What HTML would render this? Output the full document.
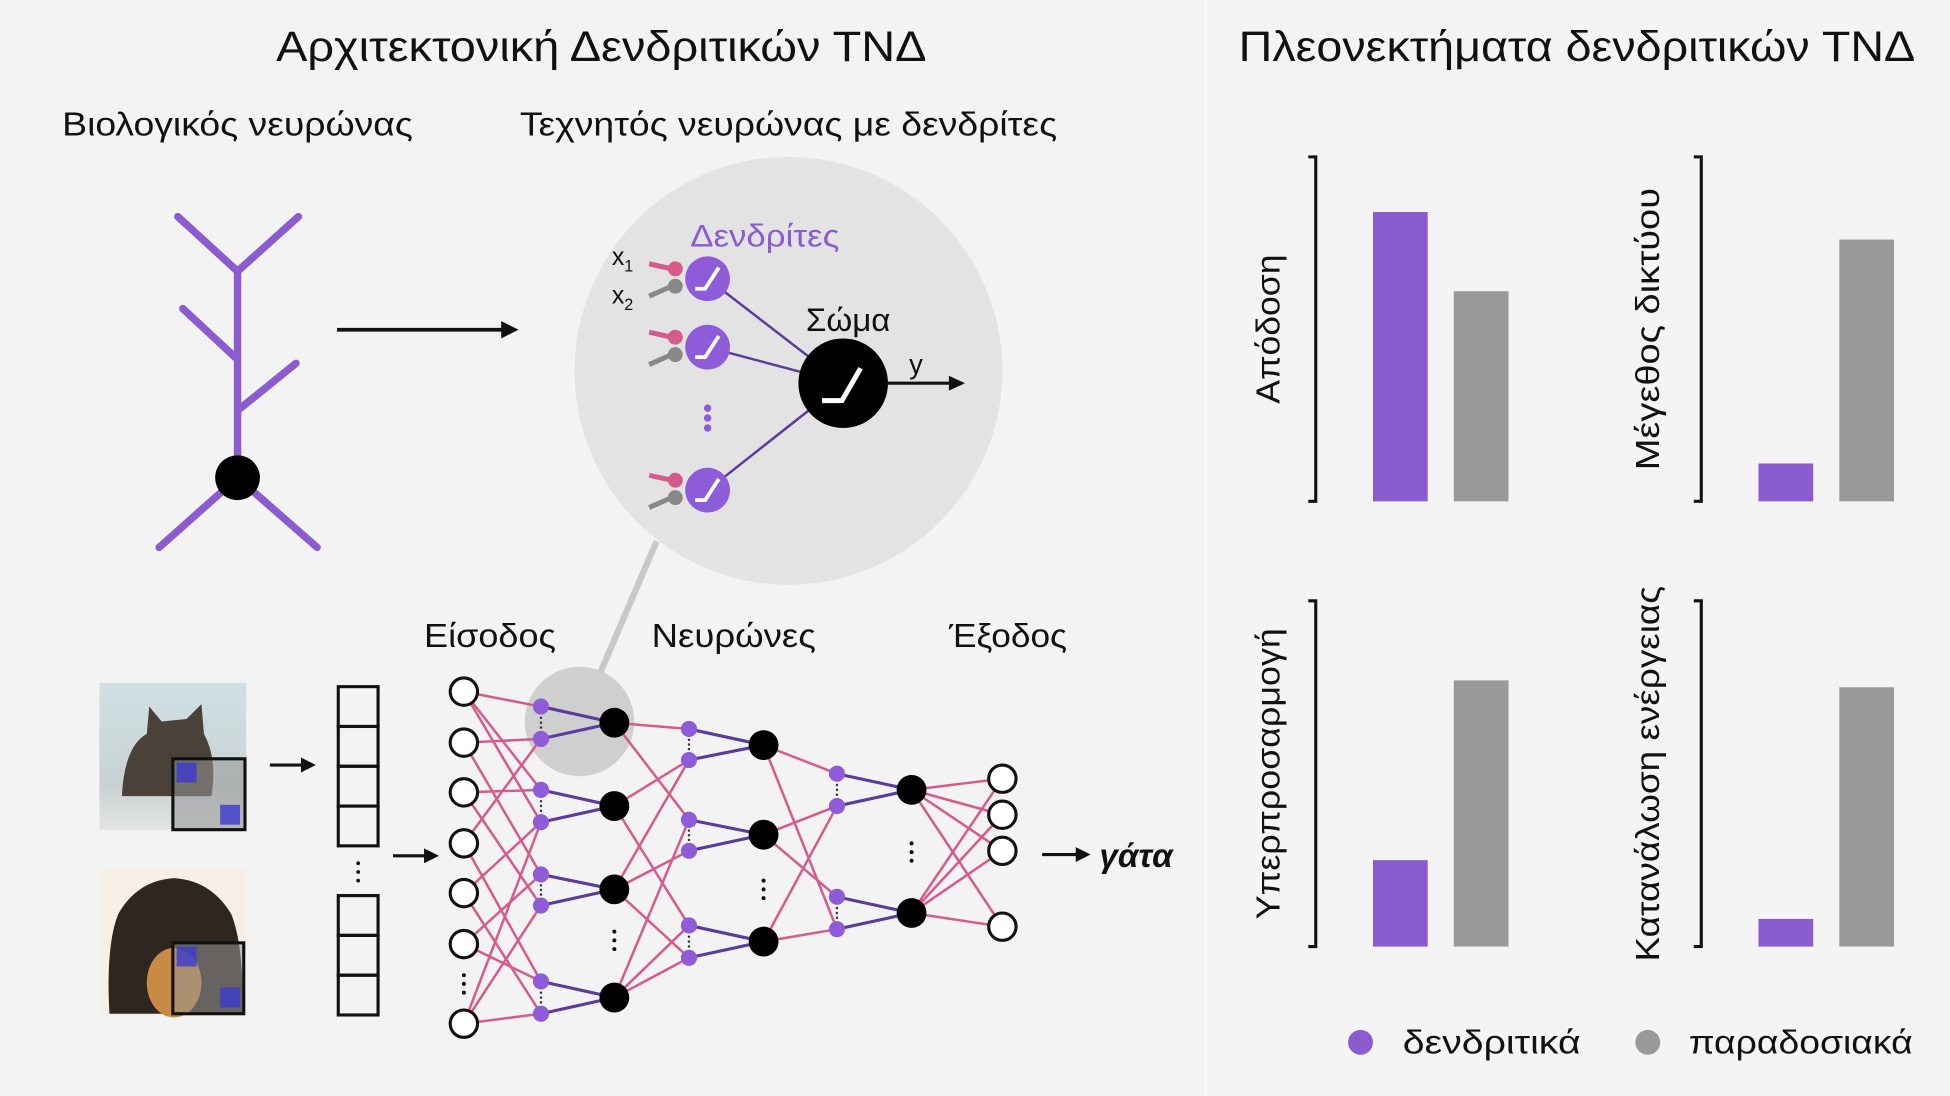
<!DOCTYPE html>
<html><head><meta charset="utf-8"><style>
html,body{margin:0;padding:0;background:#f3f3f3;}
svg{display:block;}
text{font-family:"Liberation Sans","DejaVu Sans",sans-serif;}
</style></head><body>
<svg width="1950" height="1096" viewBox="0 0 1568 881" xmlns="http://www.w3.org/2000/svg">
<rect x="0" y="0" width="1568" height="881" fill="#f3f3f3"/>
<line x1="970" y1="0" x2="970" y2="881" stroke="#fafafa" stroke-width="2"/>
<rect x="971" y="0" width="597" height="881" fill="#f4f4f4"/>

<text x="222" y="49" font-size="34" textLength="523" lengthAdjust="spacingAndGlyphs" fill="#111">Αρχιτεκτονική Δενδριτικών ΤΝΔ</text>
<text x="996" y="49" font-size="34" textLength="544" lengthAdjust="spacingAndGlyphs" fill="#111">Πλεονεκτήματα δενδριτικών ΤΝΔ</text>
<text x="50" y="109" font-size="27" textLength="282" lengthAdjust="spacingAndGlyphs" fill="#111">Βιολογικός νευρώνας</text>
<text x="418" y="109" font-size="27" textLength="432" lengthAdjust="spacingAndGlyphs" fill="#111">Τεχνητός νευρώνας με δενδρίτες</text>

<g stroke="#8b5cd0" stroke-width="6" stroke-linecap="round" fill="none">
<path d="M143 174 L191 218 L240 174 M191 218 L191 384 M147 248 L190 288 M238 292 L191 330 M191 384 L128 440 M191 384 L255 440"/>
</g>
<circle cx="191" cy="384" r="18" fill="#000"/>
<g>
<line x1="271" y1="265" x2="406" y2="265" stroke="#111" stroke-width="3"/>
<polygon points="417,265 403,258 403,272" fill="#111"/>
</g>

<line x1="528" y1="435" x2="483" y2="540" stroke="#c8c8c8" stroke-width="5"/>
<circle cx="634" cy="298" r="172" fill="#e3e3e3"/>
<circle cx="466" cy="580" r="44" fill="#cfcfcf"/>
<g id="zoomed"></g>
<text x="555" y="198" font-size="25" textLength="120" lengthAdjust="spacingAndGlyphs" fill="#8b5cd0">Δενδρίτες</text>
<text x="648" y="266" font-size="26" textLength="68" lengthAdjust="spacingAndGlyphs" fill="#111">Σώμα</text>
<text x="731" y="300" font-size="22" fill="#111">y</text>
<text x="492" y="213" font-size="20" fill="#111">x<tspan font-size="13" dy="5">1</tspan></text>
<text x="492" y="244" font-size="20" fill="#111">x<tspan font-size="13" dy="5">2</tspan></text>

<g id="images">
<defs>
<linearGradient id="catbg" x1="0" y1="0" x2="0" y2="1"><stop offset="0" stop-color="#cfe0e3"/><stop offset="0.7" stop-color="#c9d2d3"/><stop offset="1" stop-color="#e3e3e3"/></linearGradient>
</defs>
<rect x="80" y="549" width="118" height="118" fill="url(#catbg)"/>
<path d="M98 640 Q100 600 118 590 L120 568 L130 580 L150 578 L162 566 L164 590 Q175 610 170 640 Z" fill="#4a4238"/>
<rect x="139" y="610" width="58" height="57" fill="rgba(150,150,150,0.55)" stroke="#111" stroke-width="2.5"/>
<rect x="142" y="613" width="16" height="16" fill="#3a3ad0" opacity="0.8"/>
<rect x="177" y="647" width="16" height="16" fill="#3a3ad0" opacity="0.8"/>
<rect x="80" y="699" width="118" height="118" fill="#f7efe6"/>
<path d="M88 815 Q85 760 95 735 Q110 708 140 706 Q170 708 186 735 Q196 760 195 815 Z" fill="#2f2620"/>
<ellipse cx="140" cy="790" rx="22" ry="28" fill="#c98a45"/>
<rect x="139" y="758" width="57" height="57" fill="rgba(150,150,150,0.55)" stroke="#111" stroke-width="2.5"/>
<rect x="142" y="761" width="16" height="16" fill="#3a3ad0" opacity="0.8"/>
<rect x="177" y="794" width="16" height="16" fill="#3a3ad0" opacity="0.8"/>
</g>
<g><line x1="217" y1="615" x2="244" y2="615" stroke="#111" stroke-width="2.5"/><polygon points="254,615 242,609 242,621" fill="#111"/></g>
<g><line x1="316" y1="688" x2="343" y2="688" stroke="#111" stroke-width="2.5"/><polygon points="353,688 341,682 341,694" fill="#111"/></g>
<g id="vector" fill="none" stroke="#111" stroke-width="2.5">
<rect x="272" y="552" width="32" height="32"/><rect x="272" y="584" width="32" height="32"/><rect x="272" y="616" width="32" height="32"/><rect x="272" y="648" width="32" height="32"/>
<rect x="272" y="720" width="32" height="32"/><rect x="272" y="752" width="32" height="32"/><rect x="272" y="784" width="32" height="32"/>
</g>
<g fill="#111"><circle cx="288" cy="694" r="1.5"/><circle cx="288" cy="701" r="1.5"/><circle cx="288" cy="708" r="1.5"/></g>

<g id="net"></g>
<text x="341" y="520" font-size="27" textLength="106" lengthAdjust="spacingAndGlyphs" fill="#111">Είσοδος</text>
<text x="524" y="520" font-size="27" textLength="132" lengthAdjust="spacingAndGlyphs" fill="#111">Νευρώνες</text>
<text x="763" y="520" font-size="27" textLength="95" lengthAdjust="spacingAndGlyphs" fill="#111">Έξοδος</text>
<g><line x1="838" y1="687" x2="866" y2="687" stroke="#111" stroke-width="2.5"/><polygon points="877,687 865,681 865,693" fill="#111"/></g>
<text x="884" y="697" font-size="27" textLength="59" lengthAdjust="spacingAndGlyphs" font-weight="bold" font-style="italic" fill="#111">γάτα</text>

<g id="charts"></g>
<circle cx="1094" cy="838" r="10" fill="#8b5cd0"/>
<text x="1128" y="847" font-size="27" textLength="143" lengthAdjust="spacingAndGlyphs" fill="#111">δενδριτικά</text>
<circle cx="1325" cy="838" r="10" fill="#999"/>
<text x="1358" y="847" font-size="27" textLength="180" lengthAdjust="spacingAndGlyphs" fill="#111">παραδοσιακά</text>
</svg>
<script>
const NS='http://www.w3.org/2000/svg';
function mk(parent,tag,attrs){const e=document.createElementNS(NS,tag);for(const k in attrs)e.setAttribute(k,attrs[k]);parent.appendChild(e);return e;}

// ---- chart data ----
const chartTitles=['Απόδοση','Μέγεθος δικτύου','Υπερπροσαρμογή','Κατανάλωση ενέργειας'];
const seriesNames=['δενδριτικά','παραδοσιακά'];
const dendriticValues=[84,11,25,8];
const traditionalValues=[61,76,77,75];

const charts=document.getElementById('charts');
const panels=[{ax:1058,top:126,bot:403},{ax:1368,top:126,bot:403},{ax:1058,top:483,bot:761},{ax:1368,top:483,bot:761}];
const labelLens=[120,227,234,302];
function yScale(p,v){return p.bot-(p.bot-p.top)*v/100;}
chartTitles.forEach((t,i)=>{
  const p=panels[i];
  const g=mk(charts,'g',{});
  
  
  const ax=mk(g,'path',{d:`M${p.ax-6} ${p.top} L${p.ax} ${p.top} L${p.ax} ${p.bot} L${p.ax-6} ${p.bot}`,fill:'none',stroke:'#111','stroke-width':2.5});
  
  
  const vals=[dendriticValues[i],traditionalValues[i]];
  const cols=['#8b5cd0','#999999'];
  vals.forEach((v,j)=>{
    const x=p.ax+46+j*65, y=yScale(p,v);
    const r=mk(g,'rect',{x:x,y:y,width:44,height:p.bot-y,fill:cols[j]});
    
    
  });
  const lx=i%2===0?p.ax-29:p.ax-34, cy=(p.top+p.bot)/2;
  const tx=mk(g,'text',{x:lx,y:cy,'font-size':27,'text-anchor':'middle',textLength:labelLens[i],lengthAdjust:'spacingAndGlyphs',fill:'#111',transform:`rotate(-90 ${lx} ${cy})`});
  tx.textContent=t;
  
  
});

// ---- zoomed neuron ----
const z=document.getElementById('zoomed');
const dendY=[224,279,394];
dendY.forEach(y=>{
  const l=mk(z,'line',{x1:569,y1:y,x2:678,y2:308,stroke:'#5b3c9c','stroke-width':2});
  
  
});
dendY.forEach(y=>{
  const s1=mk(z,'path',{d:`M522 ${y-12} L540 ${y-8}`,stroke:'#d65a8a','stroke-width':4});
  
  
  mk(z,'circle',{cx:543,cy:y-8,r:6,fill:'#d65a8a'});
  mk(z,'path',{d:`M522 ${y+14} L540 ${y+6}`,stroke:'#888','stroke-width':4});
  mk(z,'circle',{cx:543,cy:y+6,r:6,fill:'#888'});
  const c=mk(z,'circle',{cx:569,cy:y,r:18,fill:'#8e5cd9'});
  
  
  mk(z,'path',{d:`M559 ${y+8} L567 ${y+8} L578 ${y-9}`,stroke:'#fff','stroke-width':3,fill:'none'});
});
[328,336,344].forEach(y=>mk(z,'circle',{cx:569,cy:y,r:3,fill:'#8e5cd9'}));
const soma=mk(z,'circle',{cx:678,cy:308,r:36,fill:'#000'});


mk(z,'path',{d:'M661 322 L677 322 L692 296',stroke:'#fff','stroke-width':4,fill:'none'});
mk(z,'line',{x1:714,y1:308,x2:764,y2:308,stroke:'#111','stroke-width':2.5});
mk(z,'polygon',{points:'776,308 763,302 763,314',fill:'#111'});

// ---- network ----
const net=document.getElementById('net');
const inY=[556,597,637,678,718,759,823];
const l1Soma=[581,648,715,802], l1D=[[568,594],[635,661],[703,728],[789,815]];
const l2Soma=[599,671,757], l2D=[[586,611],[659,684],[744,770]];
const l3Soma=[635,734], l3D=[[622,648],[721,747]];
const outY=[626,655,684,745];
const pink='#d65a8a', edges=[];
const l1flat=l1D.flat();
const inEdges=[[0,0],[0,2],[1,1],[2,2],[2,5],[3,1],[3,6],[4,3],[4,7],[5,4],[5,6],[6,5],[6,7],[1,4],[0,3],[6,3]];
inEdges.forEach(([a,b])=>edges.push([373,inY[a],435,l1flat[b]]));
const l2flat=l2D.flat();
[[0,0],[0,2],[1,1],[1,4],[2,3],[2,5],[3,2],[3,5],[3,4],[2,1]].forEach(([a,b])=>edges.push([494,l1Soma[a],554,l2flat[b]]));
const l3flat=l3D.flat();
[[0,0],[0,3],[1,1],[1,2],[2,1],[2,3]].forEach(([a,b])=>edges.push([614,l2Soma[a],673,l3flat[b]]));
l3Soma.forEach(a=>outY.forEach(b=>edges.push([733,a,806,b])));
edges.forEach(e=>{
  const l=mk(net,'line',{x1:e[0],y1:e[1],x2:e[2],y2:e[3],stroke:pink,'stroke-width':2});
  
  
});
function layer(sx,dx,somas,dends){
  somas.forEach((s,i)=>{
    dends[i].forEach(d=>mk(net,'line',{x1:dx,y1:d,x2:sx,y2:s,stroke:'#5b3c9c','stroke-width':2.5}));
    dends[i].forEach(d=>{
      const c=mk(net,'circle',{cx:dx,cy:d,r:6.5,fill:'#8e5cd9'});
      
      
    });
    [0.35,0.5,0.65].forEach(f=>mk(net,'circle',{cx:dx,cy:dends[i][0]+(dends[i][1]-dends[i][0])*f,r:1,fill:'#333'}));
    const c=mk(net,'circle',{cx:sx,cy:s,r:12,fill:'#000'});
    
    
  });
}
layer(494,435,l1Soma,l1D);
layer(614,554,l2Soma,l2D);
layer(733,673,l3Soma,l3D);
inY.forEach(y=>{
  const c=mk(net,'circle',{cx:373,cy:y,r:11,fill:'#fff',stroke:'#111','stroke-width':2.5});
  
  
});
outY.forEach(y=>{
  const c=mk(net,'circle',{cx:806,cy:y,r:11,fill:'#fff',stroke:'#111','stroke-width':2.5});
  
  
});
[[373,784],[494,749],[614,708],[733,678]].forEach(([x,y])=>[0,7,14].forEach(d=>mk(net,'circle',{cx:x,cy:y+d,r:1.6,fill:'#111'})));
</script>
</body></html>
